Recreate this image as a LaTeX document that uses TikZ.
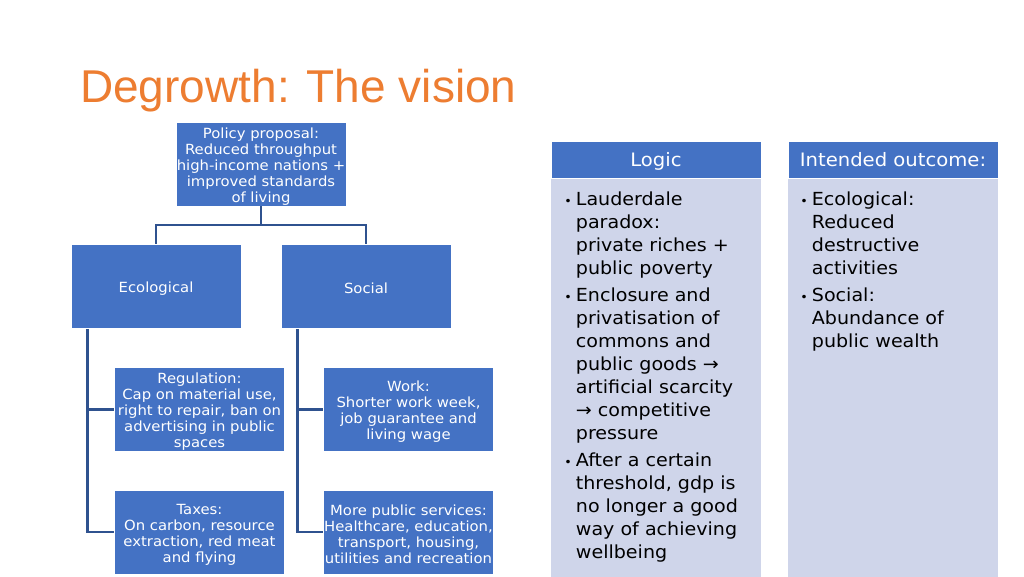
\documentclass[tikz,border=0pt]{standalone}
\usepackage{fontspec}
\setmainfont[FakeStretch=1.06]{DejaVu Sans}
\newfontfamily\titlefont{Liberation Sans}
\usetikzlibrary{positioning}
\definecolor{boxblue}{HTML}{4472C4}
\definecolor{linkblue}{HTML}{2F528F}
\definecolor{paleblue}{HTML}{CFD5EA}
\definecolor{titleorange}{HTML}{ED7D31}
\newcommand{\blt}{\llap{{\fontsize{12}{12}\selectfont\textbullet}\hspace{4pt}}}

\begin{document}
\begin{tikzpicture}[x=1pt,y=-1pt,
    box/.style={fill=boxblue,draw=white,line width=0.6pt,minimum width=170pt,minimum height=84pt,
      text width=170pt,align=center,inner sep=0pt,text=white,font=\fontsize{14}{16}\selectfont,
      execute at begin node={\rule{0pt}{15pt}}},
    link/.style={draw=linkblue,line width=2.5pt},
    colhead/.style={fill=boxblue,draw=white,line width=0.6pt,minimum width=210pt,minimum height=37pt,
      inner sep=0pt,text height=16pt,text depth=2pt,text=white,font=\fontsize{18.5}{22}\selectfont},
    coltext/.style={anchor=north west,align=left,inner sep=0pt,font=\fontsize{18}{23}\selectfont}]
  \useasboundingbox (0,0) rectangle (1024,576);
  \fill[white] (0,0) rectangle (1024,576);
  \node[anchor=base west,inner sep=0pt,text=titleorange,font=\titlefont\fontsize{46}{50}\selectfont]
    (title) at (80,102) {Degrowth: The vision};

  % policy tree
  \node[box] (policy) at (261,164) {Policy proposal:\\ Reduced throughput\\ high-income nations +\\ improved standards\\ of living};
  \node[box] (eco) at (156,286.5) {Ecological};
  \node[box] (soc) at (366,286.5) {Social};
  \node[box] (reg) at (199.5,409.5) {Regulation:\\ Cap on material use,\\ right to repair, ban on\\ advertising in public\\ spaces};
  \node[box] (work) at (408.5,409.5) {Work:\\ Shorter work week,\\ job guarantee and\\ living wage};
  \node[box] (tax) at (199.5,532) {Taxes:\\ On carbon, resource\\ extraction, red meat\\ and flying};
  \node[box] (serv) at (408.5,532) {More public services:\\ Healthcare, education,\\ transport, housing,\\ utilities and recreation};

  \coordinate (split) at (261,225);
  \draw[link] (policy) -- (split) -| (eco);
  \draw[link] (split) -| (soc);
  \foreach \top/\a/\b in {eco/reg/tax, soc/work/serv}
    \draw[link] ([xshift=17pt]\top.south west) |- (\a.west)
                ([xshift=17pt]\top.south west) |- (\b.west);

  % columns
  \node[colhead] (loghead) at (656,159.5) {Logic};
  \node[colhead] (outhead) at (893,159.5) {Intended outcome:};
  \foreach \h in {loghead, outhead}
    \fill[paleblue] ([yshift=-0.5pt]\h.south west) rectangle ([yshift=-400pt]\h.south east);

  \node[coltext] (logtext) at ([xshift=25pt,yshift=-13pt]loghead.south west)
    {\blt Lauderdale\\ paradox:\\ private riches +\\ public poverty\\[4pt]
     \blt Enclosure and\\ privatisation of\\ commons and\\ public goods →\\ artificial scarcity\\ → competitive\\ pressure\\[4pt]
     \blt After a certain\\ threshold, gdp is\\ no longer a good\\ way of achieving\\ wellbeing};
  \node[coltext] (outtext) at ([xshift=24pt,yshift=-13pt]outhead.south west)
    {\blt Ecological:\\ Reduced\\ destructive\\ activities\\[4pt]
     \blt Social:\\ Abundance of\\ public wealth};
\end{tikzpicture}
\end{document}
